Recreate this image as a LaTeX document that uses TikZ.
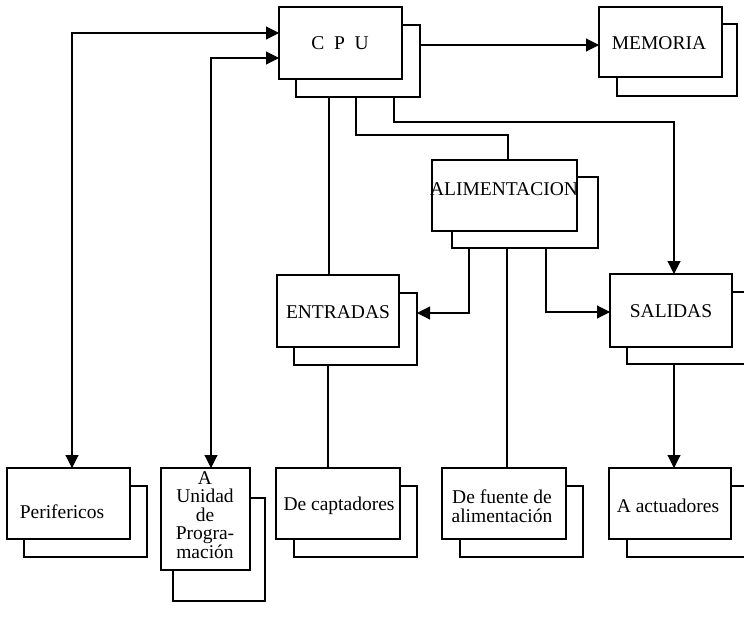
\documentclass[tikz,border=0pt]{standalone}
\usepackage{fontspec}
\setmainfont{Liberation Serif}
\usetikzlibrary{arrows.meta,fit}
\begin{document}
\begin{tikzpicture}[x=1pt,y=-1pt,
  every node/.style={inner sep=0pt, outer sep=0pt},
  backbox/.style={draw, line width=1.2pt, fill=white},
  frontbox/.style={draw, line width=1.3pt, fill=white},
  txt/.style={font=\fontsize{19.5}{18.5}\selectfont, align=center},
  wire/.style={line width=1.1pt},
  arr/.style={wire, -{Triangle[length=13pt,width=13pt]}},
  dbl/.style={wire, {Triangle[length=13pt,width=13pt]}-{Triangle[length=13pt,width=13pt]}}]
\useasboundingbox (0,0) rectangle (744,622);
\clip (0,0) rectangle (744,622);

% CPU
\node[backbox, fit={(296,25)(420,97)}] (cpuS) {};
\node[frontbox, fit={(279,7)(402,79)}] (cpuF) {};
\node[txt] (cpuT) at (340,43) {C\hspace{0.5em}P\hspace{0.5em}U};

% Memoria
\node[backbox, fit={(617,24)(737,96)}] (memS) {};
\node[frontbox, fit={(599,7)(722,77)}] (memF) {};
\node[txt] (memT) at (659,43) {MEMORIA};

% Alimentacion
\node[backbox, fit={(452,177)(598,248)}] (aliS) {};
\node[frontbox, fit={(432,160)(577,231)}] (aliF) {};
\node[txt] (aliT) at (504,189) {ALIMENTACION};

% Entradas
\node[backbox, fit={(294,293)(417,365)}] (entS) {};
\node[frontbox, fit={(277,275)(399,347)}] (entF) {};
\node[txt] (entT) at (338,312) {ENTRADAS};

% Salidas
\node[backbox, fit={(627,292)(752,364)}] (salS) {};
\node[frontbox, fit={(610,274)(732,347)}] (salF) {};
\node[txt] (salT) at (671,311) {SALIDAS};

% Perifericos
\node[backbox, fit={(24,486)(147,557)}] (perS) {};
\node[frontbox, fit={(7,468)(130,539)}] (perF) {};
\node[txt] (perT) at (62,512) {Perifericos};

% Unidad de programacion
\node[backbox, fit={(173,498)(265,601)}] (uniS) {};
\node[frontbox, fit={(161,468)(250,570)}] (uniF) {};
\node[txt] (uniT) at (205,515) {A\\Unidad\\de\\Progra-\\mación};

% Captadores
\node[backbox, fit={(294,486)(417,557)}] (capS) {};
\node[frontbox, fit={(276,468)(400,539)}] (capF) {};
\node[txt] (capT) at (339,506) {De captadores};

% Fuente de alimentacion
\node[backbox, fit={(460,486)(583,557)}] (fueS) {};
\node[frontbox, fit={(442,468)(566,539)}] (fueF) {};
\node[txt] (fueT) at (502,506) {De fuente de\\alimentación};

% Actuadores
\node[backbox, fit={(627,486)(752,557)}] (actS) {};
\node[frontbox, fit={(609,468)(731,539)}] (actF) {};
\node[txt] (actT) at (668,506) {A actuadores};

% connectors
\draw[arr] (cpuS.east |- 0,45) -- (memF.west |- 0,45);
\draw[dbl] (cpuF.west |- 0,33) -| (perF.north -| 72,0);
\draw[dbl] (cpuF.west |- 0,58) -| (uniF.north -| 211,0);
\draw[wire] (cpuS.south -| 329,0) -- (entF.north -| 329,0);
\draw[wire] (cpuS.south -| 356,0) |- (508,135) -- (aliF.north -| 508,0);
\draw[arr] (cpuS.south -| 394,0) |- (674,122) -- (salF.north -| 674,0);
\draw[arr] (aliS.south -| 469,0) |- (entS.east |- 0,313);
\draw[arr] (aliS.south -| 546,0) |- (salF.west |- 0,312);
\draw[wire] (aliS.south -| 507,0) -- (fueF.north -| 507,0);
\draw[wire] (entS.south -| 328,0) -- (capF.north -| 328,0);
\draw[arr] (salS.south -| 674,0) -- (actF.north -| 674,0);
\end{tikzpicture}
\end{document}
